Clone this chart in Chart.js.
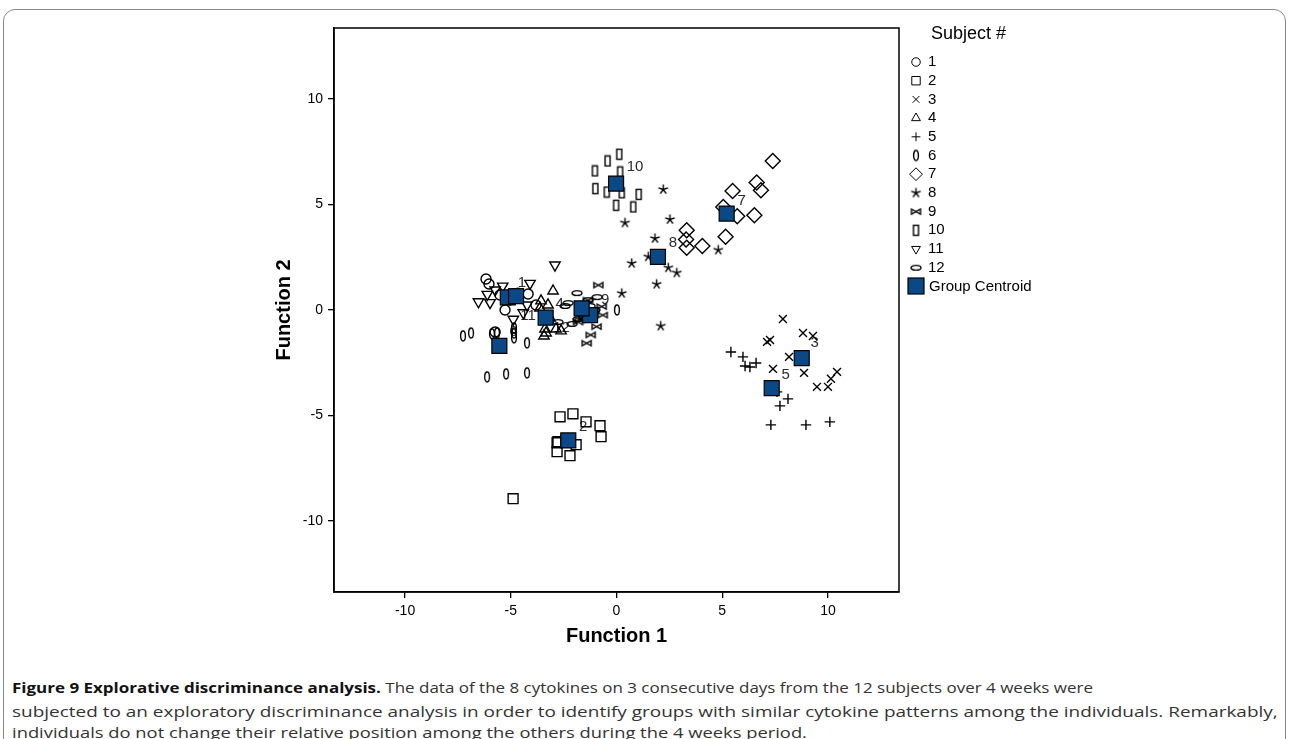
<!DOCTYPE html>
<html>
<head>
<meta charset="utf-8">
<script src="https://cdn.jsdelivr.net/npm/chart.js@4.4.0/dist/chart.umd.min.js"></script>
<style>
  html, body { margin: 0; padding: 0; background: #fff; }
  body { width: 1290px; height: 739px; position: relative; overflow: hidden; }
  #frame { position: absolute; left: 3px; top: 9px; width: 1281px; height: 780px; border: 1.5px solid #8a8a8a; border-radius: 12px; }
  #chart { position: absolute; left: 0; top: 0; }
  .cap { position: absolute; left: 12px; white-space: nowrap; font-family: "Open Sans", sans-serif; font-size: 15px; line-height: 20px; color: #333; transform-origin: 0 50%; }
  .cap b { color: #111; }
</style>
</head>
<body>
<div id="frame"></div>
<canvas id="chart" width="1290" height="660"></canvas>
<div class="cap" data-w="1081" style="top:677px"><b>Figure 9 Explorative discriminance analysis.</b> The data of the 8 cytokines on 3 consecutive days from the 12 subjects over 4 weeks were</div>
<div class="cap" data-w="1266" style="top:701px">subjected to an exploratory discriminance analysis in order to identify groups with similar cytokine patterns among the individuals. Remarkably,</div>
<div class="cap" data-w="795" style="top:722px">individuals do not change their relative position among the others during the 4 weeks period.</div>
<script>
// discriminant scores [function 1, function 2] per subject
const subject1 = [[-6.17, 1.47], [-6.03, 1.23], [-5.27, 0.00], [-4.18, 0.76], [-3.81, 0.24], [-4.66, 0.80], [-5.74, -1.04], [-5.04, 0.47], [-5.51, 0.71]];
const subject2 = [[-2.67, -5.06], [-2.06, -4.92], [-1.44, -5.30], [-0.78, -5.48], [-0.73, -6.00], [-2.81, -6.29], [-2.81, -6.71], [-2.20, -6.90], [-1.91, -6.38], [-4.89, -8.94], [-2.77, -6.24], [-2.39, -6.15]];
const subject3 = [[7.87, -0.43], [8.82, -1.09], [9.29, -1.23], [7.12, -1.51], [7.26, -1.42], [8.16, -2.22], [7.40, -2.79], [8.87, -2.98], [9.48, -3.64], [10.00, -3.64], [10.14, -3.26], [10.43, -2.93]];
const subject4 = [[-3.00, 0.90], [-3.57, 0.43], [-3.38, -0.90], [-3.43, -1.23], [-3.33, -1.09], [-2.86, -0.90], [-2.62, -0.99], [-3.62, 0.09], [-3.24, 0.24], [-3.14, -0.38]];
const subject5 = [[5.41, -1.99], [5.98, -2.22], [6.08, -2.65], [6.31, -2.70], [6.60, -2.51], [7.59, -3.88], [8.11, -4.21], [7.73, -4.54], [7.30, -5.44], [8.96, -5.44], [10.09, -5.30], [7.26, -3.74]];
const subject6 = [[-7.26, -1.23], [-6.88, -1.09], [-5.89, -1.13], [-5.65, -1.09], [-4.85, -0.85], [-4.85, -1.09], [-4.85, -1.32], [-4.23, -1.56], [-6.12, -3.17], [-5.22, -3.03], [-4.23, -2.98], [0.02, 0.00]];
const subject7 = [[7.39, 7.06], [5.49, 5.64], [6.63, 6.04], [6.83, 5.67], [5.05, 4.88], [5.71, 4.44], [6.52, 4.49], [5.16, 3.47], [3.32, 3.78], [3.29, 3.34], [3.32, 2.95], [4.06, 3.03]];
const subject8 = [[2.21, 5.71], [0.40, 4.13], [2.53, 4.29], [1.82, 3.39], [1.50, 2.52], [0.72, 2.21], [2.45, 2.00], [2.85, 1.76], [1.90, 1.22], [0.25, 0.79], [2.09, -0.76], [4.81, 2.84]];
const subject9 = [[-0.86, 1.18], [-0.70, 0.16], [-0.65, -0.24], [-0.94, -0.79], [-1.22, -1.18], [-1.41, -1.57], [-1.73, -0.47], [-1.58, -0.33], [-1.49, -0.05], [-1.06, 0.00], [-1.82, -0.57], [-1.35, 0.47]];
const subject10 = [[0.13, 7.38], [-0.42, 7.06], [-1.02, 6.59], [0.17, 6.54], [-1.00, 5.75], [-0.46, 5.59], [0.25, 5.55], [1.05, 5.48], [-0.02, 4.96], [0.79, 4.88]];
const subject11 = [[-2.91, 2.13], [-5.38, 1.13], [-5.74, 0.95], [-6.11, 0.74], [-6.53, 0.39], [-5.98, 0.35], [-4.09, 1.26], [-4.88, -0.44], [-4.41, -0.13], [-4.23, 0.24]];
const subject12 = [[-1.87, 0.80], [-0.92, 0.61], [-2.29, 0.33], [-2.77, -0.57], [-1.82, -0.43], [-1.54, -0.33], [-2.10, -0.66], [-2.43, 0.19], [-1.25, 0.19], [-1.02, 0.00], [-1.35, 0.47], [-1.44, -0.09]];
const centroids = [[-5.14, 0.60], [-2.28, -6.18], [8.76, -2.28], [-3.35, -0.36], [7.34, -3.70], [-5.54, -1.70], [5.21, 4.57], [1.96, 2.52], [-1.25, -0.24], [-0.02, 5.99], [-4.75, 0.66], [-1.65, 0.08]];
const subjectLabels = ["1", "2", "3", "4", "5", "6", "7", "8", "9", "10", "11", "12"];
const xTicks = [-10, -5, 0, 5, 10];
const yTicks = [-10, -5, 0, 5, 10];
const axisMin = -13.36;
const axisMax = 13.36;

const subjects = [subject1, subject2, subject3, subject4, subject5, subject6,
  subject7, subject8, subject9, subject10, subject11, subject12];

const FONT = '"Liberation Sans", Arial, sans-serif';
const centroidColor = "#0b4886";

// small canvases for the marker shapes chart.js doesn't have
function shape(w, h, draw) {
  const c = document.createElement("canvas");
  c.width = w;
  c.height = h;
  const g = c.getContext("2d");
  g.strokeStyle = "#000";
  g.lineWidth = 1.4;
  draw(g);
  return c;
}
const tallOval = shape(8, 14, g => { g.beginPath(); g.ellipse(4, 7, 2.4, 5, 0, 0, Math.PI * 2); g.stroke(); });
const wideOval = shape(14, 8, g => { g.beginPath(); g.ellipse(7, 4, 5, 2.4, 0, 0, Math.PI * 2); g.stroke(); });
const tallRect = shape(9, 13, g => g.strokeRect(2, 1.5, 5, 10));
const bowtie = shape(13, 9, g => {
  g.beginPath(); g.moveTo(2, 2); g.lineTo(11, 7); g.lineTo(11, 2); g.lineTo(2, 7); g.closePath(); g.stroke();
});
const asterisk = shape(13, 13, g => {
  g.beginPath();
  for (let i = 0; i < 5; i++) {
    const a = -Math.PI / 2 + i * 2 * Math.PI / 5;
    g.moveTo(6.5, 6.5);
    g.lineTo(6.5 + 5 * Math.cos(a), 6.5 + 5 * Math.sin(a));
  }
  g.stroke();
});

const markers = [
  { style: "circle", r: 5 },
  { style: "rect", r: 7 },
  { style: "crossRot", r: 5.6 },
  { style: "triangle", r: 6 },
  { style: "cross", r: 5.2 },
  { style: tallOval, r: 5 },
  { style: "rectRot", r: 7.5 },
  { style: asterisk, r: 5 },
  { style: bowtie, r: 5 },
  { style: tallRect, r: 5 },
  { style: "triangle", r: 6, rot: 180 },
  { style: wideOval, r: 5 }
];

// where each centroid number sits, relative to its square (px)
const labelShift = [[14, -14], [15, -14], [13, -15], [14, -14], [14, -13], [14, -14],
  [15, -13], [15, -14], [15, -15], [19, -17], [12, 20], [-20, 20]];

const toPts = arr => arr.map(p => ({ x: p[0], y: p[1] }));

const datasets = [{
  label: "Group Centroid",
  data: toPts(centroids),
  pointStyle: "rect",
  pointRadius: 10.6,
  pointBackgroundColor: centroidColor,
  pointBorderColor: "#000",
  pointBorderWidth: 1.2,
  order: 0
}];
subjects.forEach((s, i) => {
  datasets.push({
    label: subjectLabels[i],
    data: toPts(s),
    pointStyle: markers[i].style,
    pointRadius: markers[i].r,
    pointRotation: markers[i].rot || 0,
    pointBackgroundColor: "rgba(0,0,0,0)",
    pointBorderColor: "#000",
    pointBorderWidth: 1.4,
    order: 1
  });
});

const plotBox = {
  id: "plotBox",
  afterDraw(chart) {
    const { ctx, chartArea: a } = chart;
    ctx.save();
    ctx.strokeStyle = "#000";
    ctx.lineWidth = 1.5;
    ctx.strokeRect(a.left, a.top, a.right - a.left, a.bottom - a.top);
    ctx.restore();
  }
};

const centroidLabels = {
  id: "centroidLabels",
  beforeDatasetsDraw(chart) {
    const { ctx, scales } = chart;
    ctx.save();
    ctx.font = "15px " + FONT;
    ctx.fillStyle = "#2b2b2b";
    ctx.textAlign = "center";
    ctx.textBaseline = "middle";
    centroids.forEach((c, i) => {
      const x = scales.x.getPixelForValue(c[0]) + labelShift[i][0];
      const y = scales.y.getPixelForValue(c[1]) + labelShift[i][1];
      ctx.fillText(subjectLabels[i], x, y);
    });
    ctx.restore();
  }
};

const sideLegend = {
  id: "sideLegend",
  afterDraw(chart) {
    const ctx = chart.ctx;
    const x0 = chart.chartArea.right + 17;
    ctx.save();
    ctx.fillStyle = "#000";
    ctx.textBaseline = "middle";
    ctx.font = "18px " + FONT;
    ctx.fillText("Subject #", x0 + 15, 34);
    ctx.font = "15px " + FONT;
    subjectLabels.forEach((lab, i) => {
      const y = 62 + i * 18.7;
      ctx.strokeStyle = "#000";
      ctx.fillStyle = "rgba(0,0,0,0)";
      Chart.helpers.drawPoint(ctx, {
        pointStyle: markers[i].style,
        radius: markers[i].r * 0.85,
        rotation: markers[i].rot || 0,
        borderWidth: 1.4
      }, x0, y);
      ctx.fillStyle = "#000";
      ctx.fillText(lab, x0 + 12, y);
    });
    ctx.fillStyle = centroidColor;
    ctx.fillRect(x0 - 8, 278, 16, 16);
    ctx.strokeStyle = "#000";
    ctx.lineWidth = 1.2;
    ctx.strokeRect(x0 - 8, 278, 16, 16);
    ctx.fillStyle = "#000";
    ctx.fillText("Group Centroid", x0 + 13, 287);
    ctx.restore();
  }
};

function axis(ticks, title, fit) {
  return {
    type: "linear",
    min: axisMin,
    max: axisMax,
    afterBuildTicks: s => { s.ticks = ticks.map(v => ({ value: v })); },
    afterFit: fit,
    grid: { drawOnChartArea: false, drawTicks: true, tickLength: 6, color: "#000", lineWidth: 1.3 },
    border: { display: true, color: "#000", width: 1.5 },
    ticks: { color: "#000", padding: 5, font: { family: FONT, size: 14 } },
    title: { display: true, text: title, color: "#000", padding: 4, font: { family: FONT, size: 20, weight: "bold" } }
  };
}

new Chart(document.getElementById("chart"), {
  type: "scatter",
  data: { datasets },
  options: {
    responsive: false,
    animation: false,
    devicePixelRatio: 1,
    events: [],
    layout: { padding: { left: 268, top: 28, right: 391, bottom: 8 } },
    plugins: { legend: { display: false }, tooltip: { enabled: false } },
    scales: {
      x: axis(xTicks, "Function 1", s => { s.height = 60; }),
      y: axis(yTicks, "Function 2", s => { s.width = 66; })
    }
  },
  plugins: [plotBox, centroidLabels, sideLegend]
});

// squeeze caption lines to the widths of the printed figure
document.querySelectorAll(".cap").forEach(el => {
  const target = Number(el.dataset.w);
  el.style.transform = "scaleX(" + (target / el.scrollWidth) + ")";
});
</script>
</body>
</html>
